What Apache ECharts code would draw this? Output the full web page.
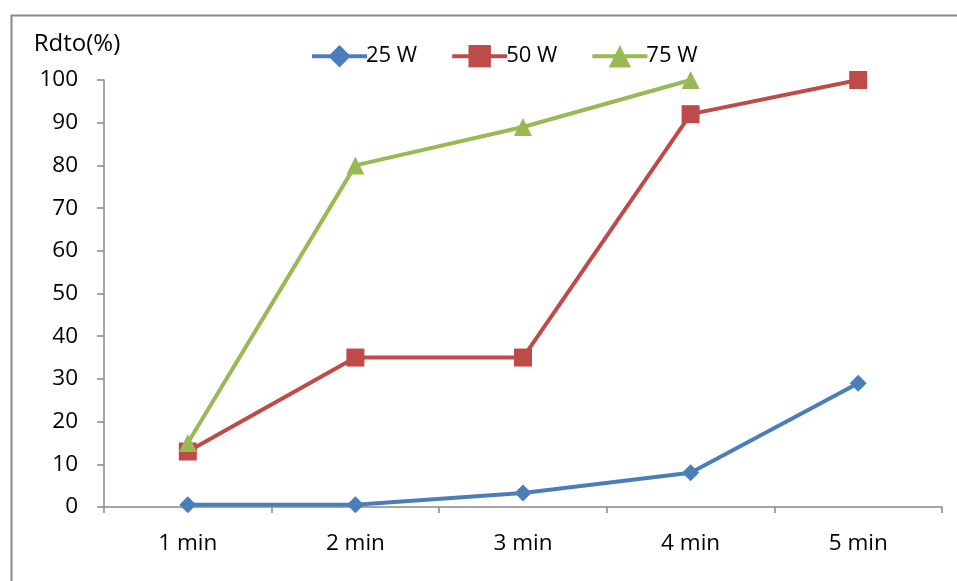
<!DOCTYPE html>
<html>
<head>
<meta charset="utf-8">
<script src="https://cdn.jsdelivr.net/npm/echarts@6/dist/echarts.min.js"></script>
<style>html,body{margin:0;padding:0;background:#fff}#c{width:957px;height:581px}</style>
</head>
<body>
<div id="c"></div>
<script>
const categories = ['1 min', '2 min', '3 min', '4 min', '5 min'];
const s25 = [0.5, 0.5, 3.3, 8, 29];
const s50 = [13, 35, 35, 92, 100];
const s75 = [15, 80, 89, 100, null];
const yTicks = [0, 10, 20, 30, 40, 50, 60, 70, 80, 90, 100];

const FONT = '"Open Sans", sans-serif';
const chart = echarts.init(document.getElementById('c'), null, {renderer: 'canvas'});
chart.setOption({
  animation: false,
  backgroundColor: '#fff',
  graphic: [{
    type: 'rect', left: 9, top: 13, shape: {x: 0, y: 0, width: 1000, height: 620},
    style: {fill: 'none', stroke: '#888', lineWidth: 2}, silent: true, z: -1
  }],
  legend: {
    top: 40, left: 305,
    itemWidth: 55, itemHeight: 28, itemGap: 33,
    lineStyle: {width: 4},
    textStyle: {fontFamily: FONT, fontSize: 22, color: '#000', padding: [0, 0, 0, -6]},
    data: ['25 W', '50 W', '75 W']
  },
  grid: {left: 104, right: 15, top: 80, bottom: 74, containLabel: false},
  xAxis: {
    type: 'category', data: categories, boundaryGap: true,
    axisLine: {lineStyle: {color: '#888', width: 1.5}},
    axisTick: {show: true, length: 6, alignWithLabel: false, lineStyle: {color: '#888', width: 1.5}},
    axisLabel: {fontFamily: FONT, fontSize: 22.5, color: '#000', margin: 25}
  },
  yAxis: {
    type: 'value', min: yTicks[0], max: yTicks[yTicks.length - 1], interval: 10,
    name: 'Rdto(%)', nameLocation: 'end', nameGap: 24,
    nameTextStyle: {fontFamily: FONT, fontSize: 24, color: '#000', padding: [0, 54, 0, 0]},
    axisLine: {show: true, lineStyle: {color: '#888', width: 1.5}},
    axisTick: {show: true, length: 7, lineStyle: {color: '#888', width: 1.5}},
    splitLine: {show: false},
    axisLabel: {fontFamily: FONT, fontSize: 22.5, color: '#000', margin: 26}
  },
  series: [
    {name: '25 W', type: 'line', data: s25, symbol: 'diamond', symbolSize: 17,
     lineStyle: {width: 4, color: '#4a7ebb'}, itemStyle: {color: '#4a7ebb'}},
    {name: '50 W', type: 'line', data: s50, symbol: 'rect', symbolSize: 18,
     lineStyle: {width: 4, color: '#be4b48'}, itemStyle: {color: '#be4b48'}},
    {name: '75 W', type: 'line', data: s75, symbol: 'triangle', symbolSize: 18,
     lineStyle: {width: 4, color: '#98b954'}, itemStyle: {color: '#98b954'}}
  ]
});
</script>
</body>
</html>
